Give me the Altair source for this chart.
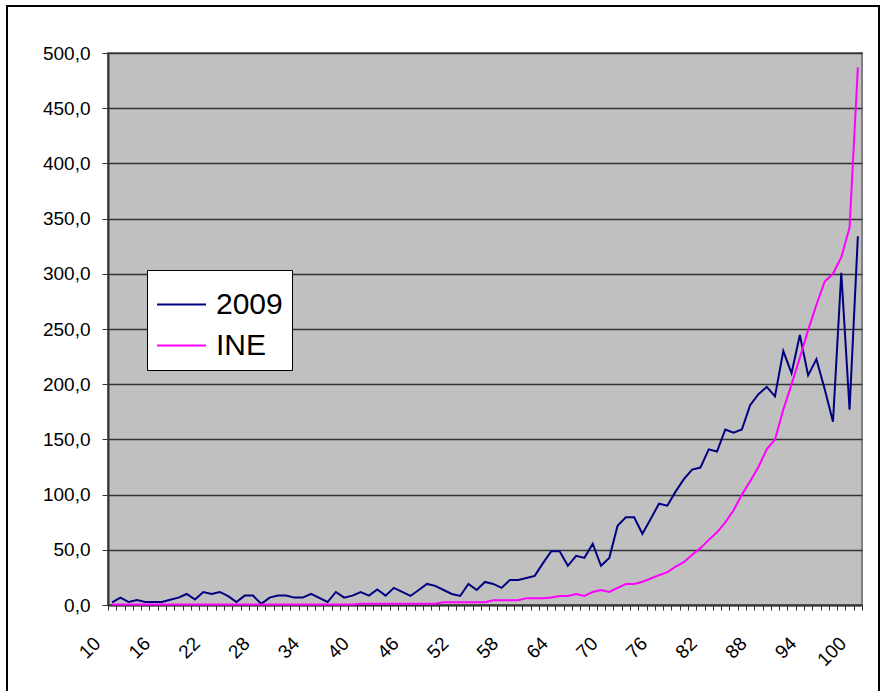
import altair as alt
import pandas as pd

# Ages on the category axis
ages = list(range(10, 101))

# Observed 2009 rates by age
rate_2009 = [
    2.4, 6.7, 2.7, 4.5, 2.7, 2.7, 2.7, 4.8, 6.7, 10.0,      # 10-19
    5.0, 11.8, 10.0, 11.8, 8.0, 2.7, 8.5, 8.5, 1.0, 6.7,    # 20-29
    8.5, 8.5, 6.7, 6.7, 10.0, 6.4, 2.7, 11.8, 6.7, 8.5,     # 30-39
    11.8, 8.5, 14.0, 8.5, 15.5, 11.8, 8.2, 13.6, 19.1, 17.3,  # 40-49
    13.6, 10.0, 8.2, 19.1, 13.6, 20.9, 19.1, 15.5, 22.7, 22.7,  # 50-59
    24.5, 26.4, 37.9, 48.8, 48.8, 35.5, 44.5, 42.7, 55.5, 35.5,  # 60-69
    42.7, 71.8, 79.5, 79.5, 64.5, 78.0, 91.8, 90.0, 102.7, 114.0,  # 70-79
    122.7, 124.5, 141.0, 139.0, 159.0, 156.0, 159.0, 181.0, 191.0, 197.5,  # 80-89
    189.0, 230.0, 210.0, 244.5, 208.0, 222.7, 195.5, 166.0, 301.0, 177.0,  # 90-99
    334.0,                                                   # 100
]

# INE reference rates by age
rate_ine = [
    0.4, 0.4, 0.4, 0.4, 0.4, 0.4, 0.4, 0.4, 0.4, 0.4,       # 10-19
    0.4, 0.4, 0.4, 0.4, 0.4, 0.4, 0.4, 0.4, 0.4, 0.4,       # 20-29
    0.4, 0.4, 0.4, 0.4, 0.4, 0.4, 0.4, 0.4, 0.4, 0.4,       # 30-39
    1.2, 1.2, 1.2, 1.2, 1.2, 1.2, 1.2, 1.2, 1.2, 1.2,       # 40-49
    2.5, 2.5, 2.5, 2.5, 2.5, 2.5, 4.3, 4.3, 4.3, 4.3,       # 50-59
    6.2, 6.2, 6.2, 6.7, 8.2, 8.2, 10.0, 8.2, 11.8, 13.6,    # 60-69
    11.8, 15.5, 19.0, 19.0, 21.0, 24.0, 27.0, 29.7, 34.8, 38.8,  # 70-79
    45.5, 51.5, 59.0, 65.8, 74.8, 85.8, 100.0, 112.0, 125.0, 141.0,  # 80-89
    150.0, 177.0, 200.0, 224.0, 249.0, 272.0, 293.0, 300.0, 315.0, 342.0,  # 90-99
    487.0,                                                   # 100
]

series_names = ["2009", "INE"]
series_colors = ["#000080", "#FF00FF"]

y_ticks = list(range(0, 501, 50))
# category boundaries carry the tick marks; labels every sixth category
boundaries = [a - 0.5 for a in ages] + [ages[-1] + 0.5]

FONT = "Liberation Sans"

df = pd.DataFrame({
    "age": ages * 2,
    "value": rate_2009 + rate_ine,
    "series": [series_names[0]] * len(ages) + [series_names[1]] * len(ages),
})

W, H = 754, 552
PAD = {"left": 108, "top": 53, "right": 19, "bottom": 86}

lines = alt.Chart(df).mark_line(strokeWidth=2, clip=False).encode(
    x=alt.X(
        "age:Q",
        scale=alt.Scale(domain=[boundaries[0], boundaries[-1]], nice=False, zero=False),
        axis=alt.Axis(
            values=boundaries,
            labelExpr="(datum.value - 9.5) % 6 == 0 ? format(datum.value + 0.5, 'd') : ''",
            labelAngle=315,
            labelAlign="right",
            labelBaseline="middle",
            labelOffset=-11,
            labelPadding=30,
            labelFlush=False,
            labelOverlap=False,
            labelFont=FONT,
            labelFontSize=19,
            labelColor="black",
            tickSize=5,
            tickColor="#333333",
            domainColor="#333333",
            domainWidth=2,
            grid=False,
            title=None,
        ),
    ),
    y=alt.Y(
        "value:Q",
        scale=alt.Scale(domain=[0, 500], nice=False),
        axis=alt.Axis(
            values=y_ticks,
            labelExpr="replace(format(datum.value, '.1f'), '.', ',')",
            labelFont=FONT,
            labelFontSize=19,
            labelColor="black",
            labelPadding=12,
            tickSize=6,
            tickColor="#333333",
            domainColor="#333333",
            domainWidth=2,
            grid=True,
            gridColor="#333333",
            gridWidth=1.3,
            title=None,
        ),
    ),
    color=alt.Color(
        "series:N",
        scale=alt.Scale(domain=series_names, range=series_colors),
        legend=alt.Legend(
            orient="none",
            legendX=39,
            legendY=217,
            title=None,
            fillColor="white",
            strokeColor="black",
            padding=9,
            symbolType="stroke",
            symbolSize=2400,
            symbolStrokeWidth=2,
            labelFont=FONT,
            labelFontSize=30,
            labelColor="black",
            labelOffset=9,
            rowPadding=0,
        ),
    ),
)

# outer frame around the whole chart
frame = alt.Chart(pd.DataFrame({"k": [0]})).mark_rect(
    fillOpacity=0, stroke="black", strokeWidth=2, clip=False
).encode(
    x=alt.value(7 - PAD["left"]),
    x2=alt.value(879 - PAD["left"]),
    y=alt.value(6 - PAD["top"]),
    y2=alt.value(720 - PAD["top"]),
)

chart = alt.layer(lines, frame).properties(
    width=W,
    height=H,
    padding=PAD,
    autosize=alt.AutoSizeParams(type="none"),
    background="white",
).configure_view(
    fill="#C0C0C0", stroke="#808080", strokeWidth=2
)

chart.save("out.html", embed_options={"renderer": "svg", "actions": False})
